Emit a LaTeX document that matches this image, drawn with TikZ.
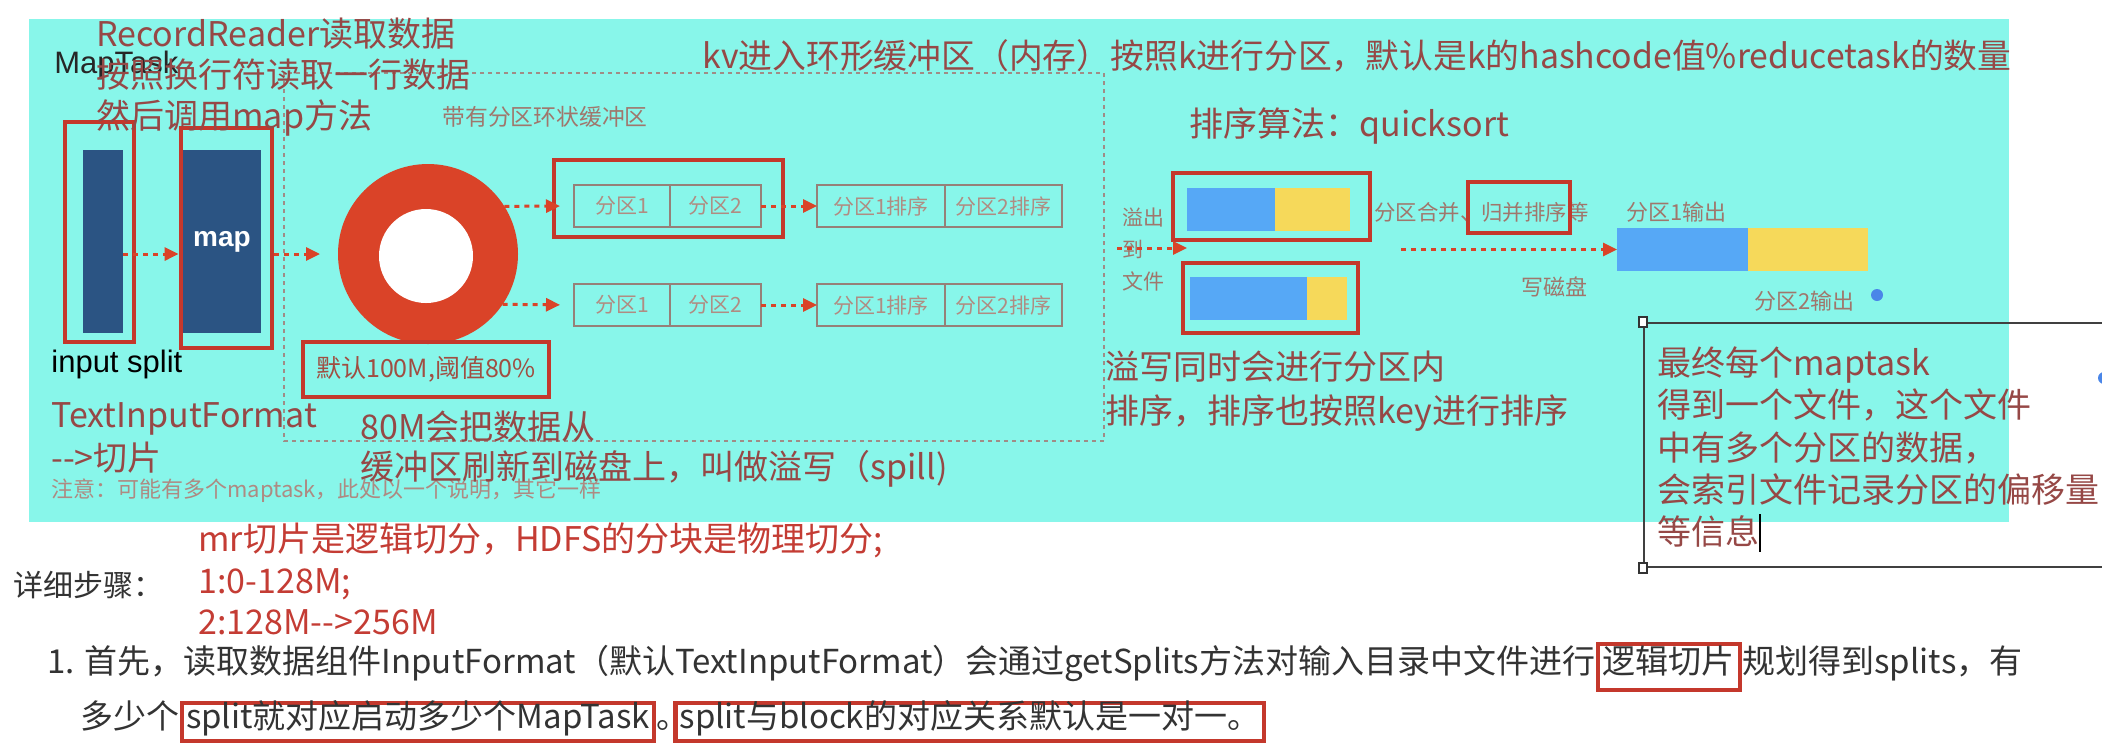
\documentclass[tikz,border=0pt]{standalone}
\usepackage{fontspec}
\setmainfont{Noto Sans CJK SC}
\newfontfamily\arialfont{Liberation Sans}
\usetikzlibrary{positioning}
\usetikzlibrary{arrows.meta}
\definecolor{panelcyan}{RGB}{136,246,234}
\definecolor{mapblue}{RGB}{43,84,131}
\definecolor{ringred}{RGB}{218,67,40}
\definecolor{boxred}{RGB}{196,56,44}
\definecolor{barblue}{RGB}{86,168,246}
\definecolor{baryellow}{RGB}{246,217,90}
\definecolor{cellgray}{RGB}{150,128,120}
\definecolor{celltext}{RGB}{176,140,130}
\definecolor{imgtext}{RGB}{160,118,108}
\definecolor{bufred}{RGB}{160,78,66}
\definecolor{annored}{RGB}{150,72,70}
\definecolor{lowred}{RGB}{196,60,52}
\definecolor{darktext}{RGB}{51,51,51}
\definecolor{dotblue}{RGB}{74,134,232}
\definecolor{framegray}{RGB}{160,140,134}
\tikzset{
    mytext/.style = {inner sep=0pt, anchor=west, align=left, text=annored, font=\fontsize{17}{20.5}\selectfont},
    mytextr/.style = {inner sep=0pt, anchor=west, align=left, text=lowred, font=\fontsize{17}{20.75}\selectfont},
    mytextd/.style = {inner sep=0pt, anchor=west, align=left, text=darktext, font=\fontsize{15}{18}\selectfont},
    mytexti/.style = {inner sep=0pt, anchor=west, align=left, text=imgtext, font=\fontsize{10.5}{16}\selectfont},
    mytextb/.style = {inner sep=0pt, text=darktext, font=\fontsize{16.5}{20}\selectfont, text height=0.9em, text depth=0.22em},
    myboxr/.style = {draw=boxred, line width=2.4pt, inner sep=0pt},
    myboxl/.style = {mytextb, draw=boxred, line width=2.2pt, inner xsep=2pt},
    myblue/.style = {fill=mapblue, inner sep=0pt},
    mybarb/.style = {fill=barblue, inner sep=0pt, outer sep=0pt, minimum height=21.5pt},
    mybary/.style = {fill=baryellow, inner sep=0pt, outer sep=0pt, minimum height=21.5pt},
    mycell/.style = {draw=cellgray, line width=0.8pt, inner sep=0pt, outer sep=0pt, minimum height=21pt, text=celltext, font=\fontsize{10.5}{10.5}\selectfont},
    ringout/.style = {circle, fill=ringred, inner sep=0pt, outer sep=0pt, minimum size=90pt},
    ringin/.style = {circle, fill=white, inner sep=0pt, minimum size=47pt},
    mydot/.style = {circle, fill=dotblue, inner sep=0pt, minimum size=6pt},
    myhandle/.style = {draw=black!80, fill=white, line width=0.6pt, inner sep=0pt, minimum width=4pt, minimum height=5pt},
    cmtbox/.style = {draw=black!75, line width=1pt, inner sep=0pt},
    edged/.style = {-{Triangle[length=7pt,width=6.5pt]}, line width=1.5pt, ringred, dash pattern=on 2.5pt off 2.5pt},
    bufframe/.style = {framegray, line width=1.4pt, dash pattern=on 2pt off 2pt}
}

\begin{document}
\begin{tikzpicture}[x=0.5pt, y=-0.5pt]
\useasboundingbox (0,0) rectangle (2102,752);
\fill[panelcyan] (29,19) rectangle (2009,522);
\draw[bufframe] (284,73) rectangle (1104,441);
%
\node[myblue, minimum width=20pt, minimum height=91.5pt] at (103,241.5) (splitin) {};
\node[myboxr, minimum width=34.5pt, minimum height=110pt] at (99.5,232) (splitbox) {};
\node[myblue, minimum width=39pt, minimum height=91.5pt, text=white, font=\arialfont\bfseries\fontsize{14}{14}\selectfont] at (222,241.5) (mapin) {map};
\node[myboxr, minimum width=45.5pt, minimum height=110pt] at (226.5,238) (mapbox) {};
\node[ringout] at (428,254) (ring) {};
\node[ringin] at (426,256) (hole) {};
\node[myboxr, text=bufred, font=\fontsize{12.5}{12.5}\selectfont, minimum width=123pt, minimum height=27.5pt] at (426,369.5) (buf) {默认100M,阈值80\%};
\node[mytexti, anchor=center, font=\fontsize{11.4}{11.4}\selectfont] at (545,117) (buftitle) {带有分区环状缓冲区};
%
\node[mycell, minimum width=48pt] at (622,206) (p1a) {分区1};
\node[mycell, minimum width=45.5pt, right=0pt of p1a] (p1b) {分区2};
\node[mycell, minimum width=64pt] at (881,206) (s1a) {分区1排序};
\node[mycell, minimum width=58.5pt, right=0pt of s1a] (s1b) {分区2排序};
\node[mycell, minimum width=48pt] at (622,305) (p2a) {分区1};
\node[mycell, minimum width=45.5pt, right=0pt of p2a] (p2b) {分区2};
\node[mycell, minimum width=64pt] at (881,305) (s2a) {分区1排序};
\node[mycell, minimum width=58.5pt, right=0pt of s2a] (s2b) {分区2排序};
\node[myboxr, minimum width=114.5pt, minimum height=38.5pt] at (668.5,198.5) (prow) {};
%
\node[mybarb, minimum width=44pt] at (1231,209.5) (b1) {};
\node[mybary, minimum width=37.5pt, right=0pt of b1] (y1) {};
\node[myboxr, minimum width=98.5pt, minimum height=33.5pt] at (1271.5,206.5) (sp1) {};
\node[mybarb, minimum width=58.5pt] at (1248.5,298.5) (b2) {};
\node[mybary, minimum width=20pt, right=0pt of b2] (y2) {};
\node[myboxr, minimum width=87.5pt, minimum height=35pt] at (1270.5,298) (sp2) {};
\node[mytexti] at (1122,250) (spilltxt) {溢出\\到\\文件};
\node[mytexti, font=\fontsize{10.7}{10.7}\selectfont] at (1374,212) (mergetxt) {分区合并、归并排序等};
\node[myboxr, minimum width=51pt, minimum height=25.5pt] at (1519,207.5) (mergebox) {};
\node[mytexti, font=\fontsize{11}{11}\selectfont] at (1521,287) (disktxt) {写磁盘};
\node[mybarb, minimum width=65.5pt] at (1682.5,249.5) (ob) {};
\node[mybary, minimum width=60pt, right=0pt of ob] (oy) {};
\node[mytexti, font=\fontsize{11}{11}\selectfont] at (1626,212) (out1) {分区1输出};
\node[mytexti, font=\fontsize{11}{11}\selectfont] at (1754,301) (out2) {分区2输出};
\node[mydot] at (1877,295) (dot1) {};
\node[mydot] at (2104,378) (dot2) {};
%
\coordinate (spillfrom) at (1117,248);
\coordinate (mergefrom) at (1401,249.5);
\path[edged] (splitin.east |- ring) edge node {} (mapbox.west |- ring);
\path[edged, shorten >=9pt] (mapbox.east |- ring) edge node {} (ring.west);
\path[edged, shorten >=7pt] (ring.32) edge node {} (p1a.west);
\path[edged, shorten >=7pt] (ring.-34) edge node {} (p2a.west);
\path[edged] (p1b) edge node {} (s1a);
\path[edged] (p2b) edge node {} (s2a);
\path[edged] (spillfrom) edge node {} (b1.west |- spillfrom);
\path[edged] (mergefrom) edge node {} (ob.west);
%
\node[mytext, text=black!85, font=\arialfont\fontsize{15.5}{15.5}\selectfont] at (54,65) (maptask) {MapTask};
\node[mytext, text=black, font=\arialfont\fontsize{15.5}{15.5}\selectfont] at (51,364) (splittxt) {input split};
\node[mytexti, text=imgtext!85!white, font=\fontsize{11}{11}\selectfont] at (51,491) (notetxt) {注意：可能有多个maptask，此处以一个说明，其它一样};
\node[mytext] at (96,77.5) (readtxt) {RecordReader读取数据\\按照换行符读取一行数据\\然后调用map方法};
\node[mytext, font=\fontsize{16.9}{16.9}\selectfont] at (702,56) (kvtxt) {kv进入环形缓冲区（内存）按照k进行分区，默认是k的hashcode值\%reducetask的数量};
\node[mytext] at (1189,126) (sorttxt) {排序算法：quicksort};
\node[mytext, font=\fontsize{17}{21.5}\selectfont] at (51,437.5) (fmttxt) {TextInputFormat\\-{}->切片};
\node[mytext, font=\fontsize{17}{20}\selectfont] at (360,449) (spilltxt2) {80M会把数据从\\缓冲区刷新到磁盘上，叫做溢写（spill)};
\node[mytext, font=\fontsize{17}{22}\selectfont] at (1105,391) (sortin) {溢写同时会进行分区内\\排序，排序也按照key进行排序};
%
\node[cmtbox, minimum width=253pt, minimum height=122pt] at (1897,445) (cmt) {};
\node[myhandle] at (cmt.north west) (h1) {};
\node[myhandle] at (cmt.south west) (h2) {};
\node[mytext, font=\fontsize{17}{21.25}\selectfont] at (1657,449) (cmttext) {最终每个maptask\\得到一个文件，这个文件\\中有多个分区的数据，\\会索引文件记录分区的偏移量\\等信息{\color{black}\rule[-0.2em]{0.7pt}{1.1em}}};
%
\node[mytextr] at (198,579) (splitnote) {mr切片是逻辑切分，HDFS的分块是物理切分;\\1:0-128M;\\2:128M-{}->256M};
\node[mytextd] at (13,585) (steps) {详细步骤：};
\node[mytextb, anchor=west] at (47,667) (l1a) {1. 首先，读取数据组件InputFormat（默认TextInputFormat）会通过getSplits方法对输入目录中文件进行};
\node[myboxl, inner ysep=6pt, inner xsep=2.5pt, right=0pt of l1a] (l1b) {逻辑切片};
\node[mytextb, right=0pt of l1b] (l1c) {规划得到splits，有};
\node[mytextb, anchor=west] at (80,722) (l2a) {多少个};
\node[myboxl, inner ysep=4pt, right=0pt of l2a] (l2b) {split就对应启动多少个MapTask};
\node[mytextb, right=0pt of l2b] (l2c) {\makebox[0.5em][l]{。}};
\node[myboxl, inner ysep=4pt, right=0pt of l2c] (l2d) {split与block的对应关系默认是一对一。};
\end{tikzpicture}
\end{document}
